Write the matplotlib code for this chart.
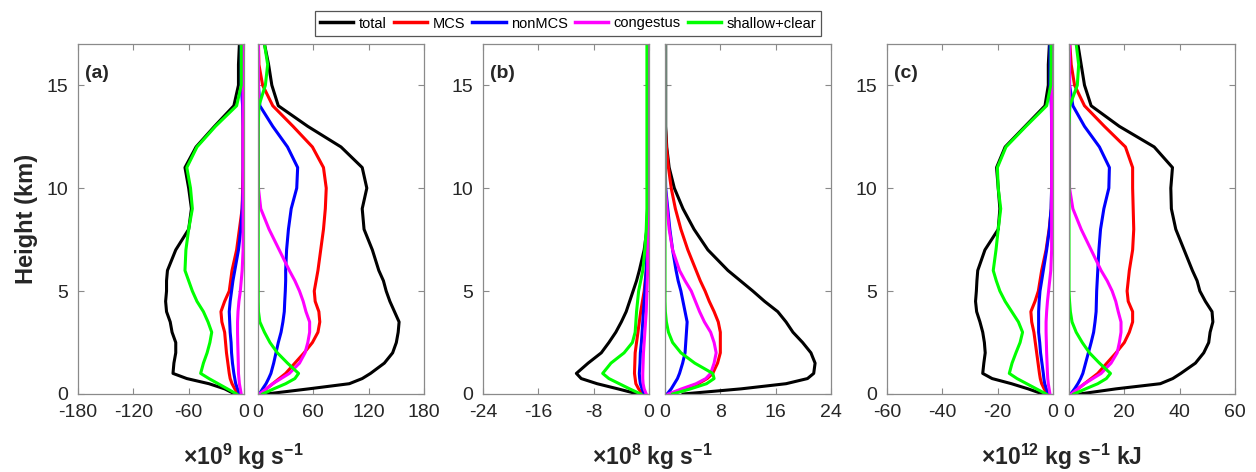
import matplotlib
matplotlib.use('Agg')
import matplotlib.pyplot as plt

plt.rcParams['font.family'] = ['Liberation Sans', 'DejaVu Sans']
plt.rcParams['axes.unicode_minus'] = False
plt.rcParams['mathtext.fontset'] = 'custom'
plt.rcParams['mathtext.rm'] = 'Liberation Sans'
plt.rcParams['mathtext.bf'] = 'Liberation Sans:bold'
plt.rcParams['mathtext.default'] = 'bf'

# heights (km)
height = [0, 0.25, 0.5, 0.75, 1, 1.5, 2, 2.5, 3, 3.5, 4, 4.5, 5, 5.5, 6,
          7, 8, 9, 10, 11, 12, 13, 14, 15, 16, 17]

series_names = ['total', 'MCS', 'nonMCS', 'congestus', 'shallow+clear']

# (a) x10^9 kg s-1
a_neg_total = [-10, -21, -38, -62, -77, -76, -74, -74, -78, -80, -84, -85, -84, -84, -83,
               -74, -60, -57, -60, -64, -52, -32, -11, -6, -6, -5]
a_neg_mcs = [-6, -10, -13, -15, -16, -17.5, -19, -20, -21, -24, -25, -21, -16, -14.5, -13,
             -8, -5, -2, -1.5, -1, -1, -1, -1, -1, -1, -1]
a_neg_non = [-5, -7, -9, -10, -11, -12.5, -13.5, -14, -15, -15.5, -16, -15, -13.5, -12, -10,
             -6, -3.5, -2, -1, -1, -1, -1, -1.5, -3, -3, -3]
a_neg_cong = [-3, -4, -5, -5.5, -6, -6.2, -6.5, -6.8, -7, -7, -6.5, -5.5, -4, -3, -2,
              -1, -1, -1, -1, -1, -1, -1, -1, -1, -1, -1]
a_neg_shal = [-8, -18, -28, -38, -47, -44, -40, -37, -35, -39, -44, -51, -56, -60, -64,
              -63, -60, -56, -58, -62, -51, -31, -8, -3, -3, -3]
a_pos_total = [9, 55, 99, 113, 122, 137, 146, 150, 152, 153, 148, 143, 139, 136, 131,
               124, 115, 113, 118, 113, 90, 54, 22, 15, 11.5, 7]
a_pos_mcs = [2, 9, 16, 23, 30, 40, 50, 59, 65, 67, 66, 62, 61, 63, 65,
             68, 71, 73, 74, 71, 59, 38, 16, 5, 1, 0.5]
a_pos_non = [1.5, 5, 8.7, 11.5, 14, 17, 19.5, 22, 25, 27, 28.5, 29, 29.6, 30, 30,
             31, 33, 36, 42, 43, 32, 16, 2, 0.5, 0.5, 0.5]
a_pos_cong = [1.5, 9, 16, 25, 34, 45, 51, 54, 56, 56, 52, 49, 45, 40, 34,
              23, 12, 3, 0.5, 0.5, 0.5, 0.5, 0.5, 0.5, 0.5, 0.5]
a_pos_shal = [5, 17, 30, 40, 44, 32, 21, 13, 7, 2, 0.5, 0.3, 0.3, 0.3, 0.3,
              0.3, 0.3, 0.3, 0.3, 0.3, 0.3, 0.3, 1, 8, 10.5, 7]

# (b) x10^8 kg s-1
b_neg_total = [-1.6, -4.5, -7.5, -9.8, -10.5, -8.8, -6.9, -5.8, -4.8, -4.0, -3.3, -2.8, -2.3, -1.8, -1.4,
               -0.7, -0.3, -0.2, -0.2, -0.2, -0.2, -0.2, -0.2, -0.2, -0.2, -0.2]
b_neg_mcs = [-0.9, -1.5, -1.9, -2.0, -2.1, -2.05, -2.0, -1.8, -1.6, -1.4, -1.2, -0.95, -0.7, -0.55, -0.4,
             -0.3, -0.2, -0.2, -0.2, -0.2, -0.2, -0.2, -0.2, -0.2, -0.2, -0.2]
b_neg_non = [-0.7, -1.0, -1.25, -1.35, -1.4, -1.3, -1.25, -1.1, -1.0, -0.9, -0.8, -0.7, -0.6, -0.5, -0.4,
             -0.3, -0.2, -0.2, -0.2, -0.2, -0.2, -0.2, -0.2, -0.2, -0.2, -0.2]
b_neg_cong = [-0.4, -0.7, -0.85, -0.9, -0.9, -0.85, -0.8, -0.7, -0.6, -0.5, -0.4, -0.35, -0.3, -0.25, -0.2,
              -0.2, -0.2, -0.2, -0.2, -0.2, -0.2, -0.2, -0.2, -0.2, -0.2, -0.2]
b_neg_shal = [-1.2, -2.8, -4.3, -5.8, -6.7, -5.5, -3.6, -2.4, -2.0, -1.9, -1.8, -1.65, -1.5, -1.2, -0.9,
              -0.6, -0.4, -0.3, -0.3, -0.3, -0.3, -0.3, -0.3, -0.3, -0.3, -0.3]
b_pos_total = [2.6, 11, 17.5, 20.6, 21.5, 21.7, 21.1, 19.9, 18.5, 17.5, 16.3, 14.4, 12.7, 10.9, 9.1,
               6.2, 4.2, 2.6, 1.35, 0.6, 0.25, 0.1, 0.1, 0.1, 0.1, 0.1]
b_pos_mcs = [0.6, 2.8, 4.8, 6.1, 6.9, 7.6, 8.0, 8.0, 8.0, 7.7, 7.1, 6.4, 5.8, 5.1, 4.5,
             3.3, 2.3, 1.5, 0.9, 0.5, 0.2, 0.05, 0.05, 0.05, 0.05, 0.05]
b_pos_non = [0.3, 0.9, 1.35, 1.8, 2.1, 2.55, 2.9, 3.0, 3.1, 3.2, 2.9, 2.6, 2.3, 1.9, 1.6,
             1.1, 0.7, 0.4, 0.1, 0.05, 0.05, 0.05, 0.05, 0.05, 0.05, 0.05]
b_pos_cong = [0.5, 2.4, 4.5, 5.9, 6.6, 7.1, 7.4, 7.1, 6.6, 5.7, 5.0, 4.4, 3.8, 2.9, 2.1,
              1.1, 0.6, 0.3, 0.05, 0.05, 0.05, 0.05, 0.05, 0.05, 0.05, 0.05]
b_pos_shal = [1.1, 3.7, 6.0, 7.1, 6.9, 4.3, 2.3, 1.1, 0.5, 0.2, 0.05, 0, 0, 0, 0,
              0, 0, 0, 0, 0, 0, 0, 0, 0, 0, 0]

# (c) x10^12 kg s-1 kJ
c_neg_total = [-3.7, -9, -15, -22, -25.4, -25, -24.5, -24.8, -25.4, -26.4, -27.6, -28, -27.7, -27.5, -27.2,
               -24.6, -19.8, -19.2, -19.8, -20.4, -17.3, -10.1, -2.9, -1.7, -1.7, -1.3]
c_neg_mcs = [-2, -3.2, -4.1, -4.6, -4.9, -5.4, -5.9, -6.4, -6.9, -7.7, -8, -6.5, -5.3, -4.7, -4.1,
             -2.5, -1.4, -0.6, -0.5, -0.5, -0.5, -0.5, -0.5, -0.5, -0.5, -0.5]
c_neg_non = [-1.7, -2.4, -3, -3.3, -3.5, -4, -4.5, -4.8, -5.2, -5.2, -5.2, -5, -4.7, -4.1, -3.5,
             -2.3, -1.3, -0.7, -0.5, -0.5, -0.5, -0.5, -0.6, -1.1, -1.1, -1.1]
c_neg_cong = [-1.1, -1.4, -1.7, -1.9, -2, -2.15, -2.3, -2.4, -2.5, -2.5, -2.3, -2, -1.6, -1.2, -0.8,
              -0.5, -0.5, -0.5, -0.5, -0.5, -0.5, -0.5, -0.5, -0.5, -0.5, -0.5]
c_neg_shal = [-2.5, -6, -9.5, -13, -15.8, -14.8, -13.4, -11.9, -11, -12.5, -14.9, -17.3, -19.2, -20.5, -21.6,
              -20.6, -19.8, -18.9, -19.8, -20.1, -17, -9.8, -2.3, -0.8, -0.7, -0.7]
c_pos_total = [3.8, 17, 33, 37.5, 40.4, 45.7, 48.7, 50.5, 51, 52, 51.7, 49.3, 47.3, 46.3, 44.6,
               41.6, 38.6, 37, 36.8, 37.4, 30.8, 18.2, 8, 5.6, 4.4, 3.2]
c_pos_mcs = [0.8, 3.2, 5.6, 8, 10.4, 13.7, 17, 20, 21.8, 23, 23, 21.4, 21, 21.4, 21.8,
             23, 23.4, 23.2, 23, 23, 20.4, 12.8, 5.6, 2, 0.8, 0.3]
c_pos_non = [0.6, 2, 3.2, 4.2, 5, 6, 7, 8, 8.9, 9.4, 9.8, 9.9, 10, 10.2, 10.4,
             10.8, 11.4, 12.6, 14.4, 14.6, 11, 5.6, 1.4, 0.2, 0.2, 0.2]
c_pos_cong = [0.8, 3.2, 5.6, 8.6, 11.6, 15.2, 17.4, 18.2, 18.8, 18.8, 17.8, 16.9, 15.6, 13.8, 11.6,
              8, 4.4, 1.4, 0.2, 0.2, 0.2, 0.2, 0.2, 0.2, 0.2, 0.2]
c_pos_shal = [1.8, 6, 10.4, 13.5, 15, 11, 7.4, 4.8, 2.6, 1.1, 0.5, 0.2, 0, 0, 0,
              0, 0, 0, 0, 0, 0, 0, 0.3, 3, 3.5, 2.6]

a_ticks = [0, 60, 120, 180]
b_ticks = [0, 8, 16, 24]
c_ticks = [0, 20, 40, 60]
y_ticks = [0, 5, 10, 15]

colors = ['k', '#ff0000', '#0000ff', '#ff00ff', '#00ff00']

panels = [
    ('(a)', [a_neg_total, a_neg_mcs, a_neg_non, a_neg_cong, a_neg_shal],
     [a_pos_total, a_pos_mcs, a_pos_non, a_pos_cong, a_pos_shal], a_ticks,
     r'×10$^{9}$ kg s$^{-1}$'),
    ('(b)', [b_neg_total, b_neg_mcs, b_neg_non, b_neg_cong, b_neg_shal],
     [b_pos_total, b_pos_mcs, b_pos_non, b_pos_cong, b_pos_shal], b_ticks,
     r'×10$^{8}$ kg s$^{-1}$'),
    ('(c)', [c_neg_total, c_neg_mcs, c_neg_non, c_neg_cong, c_neg_shal],
     [c_pos_total, c_pos_mcs, c_pos_non, c_pos_cong, c_pos_shal], c_ticks,
     r'×10$^{12}$ kg s$^{-1}$ kJ'),
]

W, H = 1256, 472
fig = plt.figure(figsize=(W / 100, H / 100), dpi=100)

# pixel layout of each panel: left edge of negative half, left edge of positive half
left_px = [(78, 258), (483, 665), (887, 1069)]
label_x_px = [243, 652, 1061]
sub_w = 166
bottom = 1 - 394 / H
ax_h = 350 / H
spine_col = '#8a8a8a'
txt_col = '#262626'

handles = []
for (tag, neg, pos, ticks, xlab), (l1, l2), lx in zip(panels, left_px, label_x_px):
    ax1 = fig.add_axes([l1 / W, bottom, sub_w / W, ax_h])
    ax2 = fig.add_axes([l2 / W, bottom, sub_w / W, ax_h])
    for vals, c in zip(neg, colors):
        ax1.plot(vals, height, color=c, lw=2.2)
    for vals, c, name in zip(pos, colors, series_names):
        ln, = ax2.plot(vals, height, color=c, lw=2.2, label=name)
        if tag == '(a)':
            handles.append(ln)
    ax1.set_xlim(-ticks[-1], 0)
    ax1.set_xticks([-t for t in ticks[::-1]])
    ax2.set_xlim(0, ticks[-1])
    ax2.set_xticks(ticks)
    for ax in (ax1, ax2):
        ax.set_ylim(0, 17)
        ax.set_yticks(y_ticks)
        ax.tick_params(direction='in', top=True, right=True, left=True, bottom=True,
                       length=4, width=0.8, color=spine_col, labelcolor=txt_col,
                       labelsize=14, pad=7)
        for sp in ax.spines.values():
            sp.set_color(spine_col)
            sp.set_linewidth(0.9)
    ax2.tick_params(labelleft=False)
    ax1.text(0.04, 0.915, tag, transform=ax1.transAxes, fontsize=14,
             fontweight='bold', color=txt_col, va='center', ha='left')
    fig.text(lx / W, 1 - 465 / H, xlab, fontsize=16.5, fontweight='bold',
             color=txt_col, ha='center', va='baseline')

fig.text(27 / W, 1 - 219 / H, 'Height (km)', rotation=90, fontsize=17,
         fontweight='bold', color=txt_col, ha='center', va='center')

leg = fig.legend(handles=handles, loc='center', ncol=5,
                 bbox_to_anchor=(568 / W, 1 - 23.5 / H), fontsize=10.5,
                 frameon=True, fancybox=False, edgecolor='#555555', framealpha=1,
                 handlelength=2.3, handletextpad=0.35, columnspacing=0.5,
                 borderpad=0.35)
leg.get_frame().set_linewidth(0.9)
for line in leg.get_lines():
    line.set_linewidth(2.5)

fig.savefig('out.png', dpi=100)
